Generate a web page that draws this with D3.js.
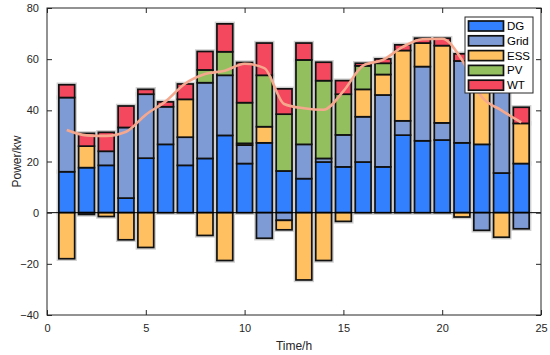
<!DOCTYPE html>
<html><head><meta charset="utf-8">
<script src="https://cdn.jsdelivr.net/npm/d3@7"></script>
<style>body{margin:0;background:#fff}svg{display:block}text{font-family:"Liberation Sans",Arial,sans-serif}</style>
</head><body><svg id="c" width="550" height="355"></svg>
<script>
const hours = d3.range(1, 25);
const seriesNames = ["DG", "Grid", "ESS", "PV", "WT"];
const DG   = [16, 17.6, 18.5, 5.7, 21.3, 26.7, 18.5, 21.2, 30.2, 19.2, 27.3, 16.3, 13.3, 19.8, 17.9, 19.8, 17.9, 30.3, 28.1, 28.4, 27.3, 26.7, 15.5, 19.2];
const Grid = [29, -0.7, 5.5, 27.6, 25, 14.7, 11, 29.6, 23.5, 7.2, -10, -3, 13.4, 1.4, 12.5, 17.7, 28.1, 5.6, 29, 6.7, 32, -6.9, 34.3, -6.3];
const ESS  = [-18, 8.4, -1.5, -10.6, -13.6, 0, 14.8, -8.9, -18.7, 0.7, 6.3, -3.7, -26.3, -18.7, -3.4, 10.7, 8, 27.5, 9.2, 30.2, -1.7, 25.5, -9.6, 15.7];
const PV   = [0, 0, 0, 0, 0, 0, 0, 5, 9.2, 15.9, 20.1, 22.2, 33, 30.4, 15.9, 9.2, 4.4, 0, 0, 0, 0, 0, 0, 0];
const WT   = [5, 5, 7.4, 8.4, 1.9, 1.9, 6, 7.2, 10.9, 15.7, 12.6, 9.9, 6.6, 7.2, 5.3, 1, 1.7, 2.2, 1.9, 2.9, 2.8, 0, 0, 6.3];
const load = [32.3, 30.2, 30, 31.6, 38.3, 43.5, 50.5, 54.2, 55.5, 58.2, 56.5, 42.5, 40.8, 40.2, 47.5, 57.5, 59.7, 64.8, 67.8, 68, 59.8, 45.3, 40, 35.3];
const xTicks = [0, 5, 10, 15, 20, 25];
const yTicks = [-40, -20, 0, 20, 40, 60, 80];
const colors = ["#3380FF", "#7F9BD5", "#FFC061", "#93BF5F", "#F4485F"];

const seriesVals = [DG, Grid, ESS, PV, WT];
const svg = d3.select("#c");
const L = 47, R = 541, T = 8, B = 315;
const x = d3.scaleLinear().domain([0, 25]).range([L, R]);
const y = d3.scaleLinear().domain([-40, 80]).range([B, T]);
const bw = x(0.8) - x(0);

// stacked segments (positives up, negatives down)
const segs = [];
hours.forEach((h, i) => {
  let pos = 0, neg = 0;
  seriesVals.forEach((arr, s) => {
    const v = arr[i];
    if (v > 0) { segs.push({h, s, y0: pos, y1: pos + v}); pos += v; }
    else if (v < 0) { segs.push({h, s, y0: neg + v, y1: neg}); neg += v; }
  });
});
const g = svg.append("g");
g.selectAll("rect.halo").data(segs).join("rect")
  .attr("x", d => x(d.h) - bw/2).attr("width", bw)
  .attr("y", d => y(d.y1)).attr("height", d => y(d.y0) - y(d.y1))
  .attr("fill", "none").attr("stroke", "#d0d0d0").attr("stroke-width", 4.5);
g.selectAll("rect.seg").data(segs).join("rect")
  .attr("x", d => x(d.h) - bw/2).attr("width", bw)
  .attr("y", d => y(d.y1)).attr("height", d => y(d.y0) - y(d.y1))
  .attr("fill", d => colors[d.s]).attr("stroke", "#111").attr("stroke-width", 1.7);

// baseline
svg.append("line").attr("x1", L).attr("x2", R).attr("y1", y(0)).attr("y2", y(0))
  .attr("stroke", "#000").attr("stroke-width", 1);

// load line
svg.append("path").datum(hours.map((h, i) => [h, load[i]]))
  .attr("d", d3.line().x(d => x(d[0])).y(d => y(d[1])).curve(d3.curveMonotoneX))
  .attr("fill", "none").attr("stroke", "#F6A88E").attr("stroke-width", 2.6);

// axes box
const ax = "#262626";
svg.append("rect").attr("x", L).attr("y", T).attr("width", R - L).attr("height", B - T)
  .attr("fill", "none").attr("stroke", ax).attr("stroke-width", 1);
svg.append("g").attr("transform", `translate(0,${B})`)
  .call(d3.axisBottom(x).tickValues(xTicks).tickSize(-5).tickPadding(9).tickFormat(d3.format("d")))
  .call(a => { a.select(".domain").remove(); a.selectAll("line").attr("stroke", ax);
    a.selectAll("text").attr("fill", ax).attr("font-size", 11); });
svg.append("g").attr("transform", `translate(0,${T})`)
  .call(d3.axisTop(x).tickValues(xTicks).tickSize(-5).tickFormat(""))
  .call(a => { a.select(".domain").remove(); a.selectAll("line").attr("stroke", ax); });
svg.append("g").attr("transform", `translate(${L},0)`)
  .call(d3.axisLeft(y).tickValues(yTicks).tickSize(-5).tickPadding(8).tickFormat(d3.format("d")))
  .call(a => { a.select(".domain").remove(); a.selectAll("line").attr("stroke", ax);
    a.selectAll("text").attr("fill", ax).attr("font-size", 11); });
svg.append("g").attr("transform", `translate(${R},0)`)
  .call(d3.axisRight(y).tickValues(yTicks).tickSize(-5).tickFormat(""))
  .call(a => { a.select(".domain").remove(); a.selectAll("line").attr("stroke", ax); });

svg.append("text").attr("x", (L + R) / 2).attr("y", 350).attr("text-anchor", "middle")
  .attr("font-size", 12).attr("fill", ax).text("Time/h");
svg.append("text").attr("transform", `translate(21,${(T + B) / 2}) rotate(-90)`)
  .attr("text-anchor", "middle").attr("font-size", 12).attr("fill", ax).text("Power/kw");

// legend
const lg = svg.append("g").attr("transform", "translate(465,17)");
lg.append("rect").attr("width", 68).attr("height", 76).attr("fill", "#fff")
  .attr("stroke", ax).attr("stroke-width", 1);
seriesNames.forEach((n, i) => {
  const cy = 9 + i * 14.8;
  lg.append("rect").attr("x", 3.5).attr("y", cy - 5).attr("width", 35).attr("height", 10)
    .attr("fill", colors[i]).attr("stroke", "#111").attr("stroke-width", 1.7);
  lg.append("text").attr("x", 42).attr("y", cy + 4).attr("font-size", 11.5).attr("fill", "#000").text(n);
});
</script></body></html>
